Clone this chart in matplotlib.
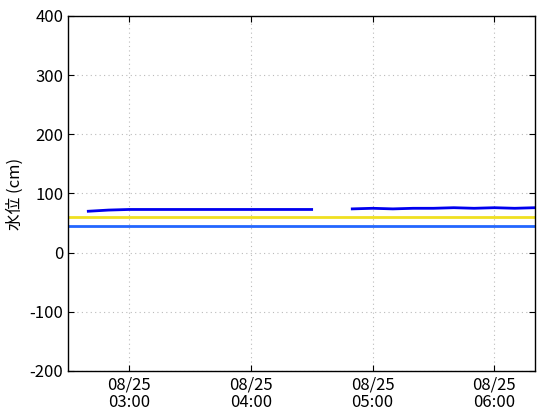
import matplotlib
matplotlib.use("Agg")
import matplotlib.pyplot as plt
import matplotlib.dates as mdates
import numpy as np
from datetime import datetime

plt.rcParams['font.family'] = ['Noto Sans CJK JP', 'DejaVu Sans']
plt.rcParams['axes.unicode_minus'] = False

# water level data (10 min steps), None = missing
times = ["02:40", "02:50", "03:00", "03:10", "03:20", "03:30", "03:40", "03:50",
         "04:00", "04:10", "04:20", "04:30", "04:40", "04:50", "05:00", "05:10",
         "05:20", "05:30", "05:40", "05:50", "06:00", "06:10", "06:20"]
levels = [70, 72, 73, 73, 73, 73, 73, 73,
          73, 73, 73, 73, None, 74, 75, 74,
          75, 75, 76, 75, 76, 75, 76]
level_yellow = 60
level_blue = 45

x_ticks = ["03:00", "04:00", "05:00", "06:00"]
x_start = "02:30"
x_end = "06:20"

def t(s):
    return datetime(2023, 8, 25, int(s[:2]), int(s[3:]))

tx = [t(s) for s in times]
ty = np.array([np.nan if v is None else v for v in levels], dtype=float)

fig = plt.figure(figsize=(5.6, 4.2), dpi=100)
ax = fig.add_axes([68/560, 1 - 371/420, 467/560, 355/420])

ax.axhline(level_yellow, color='#f0e020', lw=2)
ax.axhline(level_blue, color='#2266ff', lw=2)
ax.plot(tx, ty, color='#0000ee', lw=2)

ax.set_xlim(t(x_start), t(x_end))
ax.set_ylim(-200, 400)
ax.set_yticks(np.arange(-200, 401, 100))
ax.set_xticks([t(s) for s in x_ticks])
ax.xaxis.set_major_formatter(mdates.DateFormatter("%m/%d\n%H:%M"))
for lbl in ax.get_xticklabels():
    lbl.set_linespacing(1.0)
ax.grid(True, linestyle=(0, (1, 3)), color='#bbbbbb', lw=0.8)
ax.tick_params(direction='in', top=True, right=True, labelsize=12, length=4)
ax.tick_params(axis='x', pad=4)
ax.set_ylabel("水位 (cm)", fontsize=12)
for s in ax.spines.values():
    s.set_linewidth(1)

plt.savefig("out.png", dpi=100)
